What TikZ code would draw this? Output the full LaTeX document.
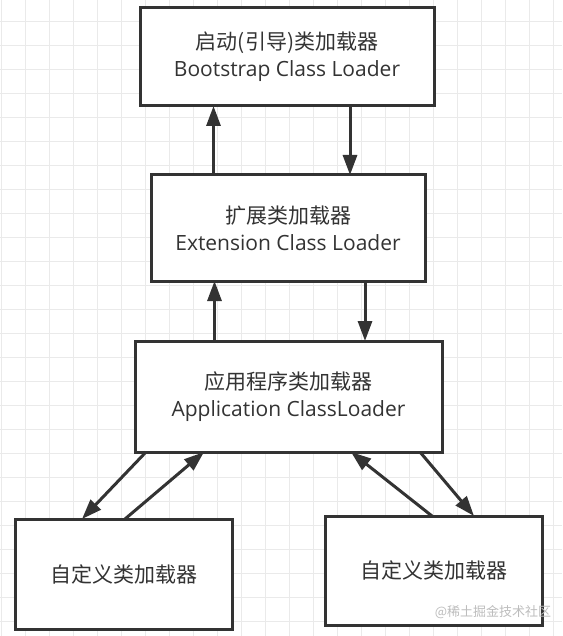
\documentclass[tikz,border=0pt]{standalone}
\usepackage{fontspec}
\setmainfont{Open Sans}
\newfontfamily\cjk{Noto Sans CJK SC}
\usetikzlibrary{arrows.meta}
\definecolor{ink}{HTML}{333333}
\definecolor{gridc}{HTML}{EAEAEA}
\definecolor{wmark}{HTML}{BDBDBD}
\tikzset{
  box/.style={draw=ink, line width=3pt, rectangle, inner sep=0pt, outer sep=0pt, fill=white,
    text=ink, align=center, font=\fontsize{21}{27}\selectfont},
  arr/.style={draw=ink, line width=3pt, -{Triangle[length=20pt,width=14pt]}},
  gridline/.style={draw=gridc, line width=1pt}
}
\newcommand{\zh}[1]{{\cjk\fontsize{21}{27}\selectfont #1}}
\begin{document}
\begin{tikzpicture}[x=1pt,y=-1pt]
\fill[white] (0,0) rectangle (562,636);
\useasboundingbox (0,0) rectangle (562,636);
\foreach \gx in {1,25,...,553} \draw[gridline] (\gx,0) -- (\gx,636);
\foreach \gy in {21.5,45.5,...,621.5} \draw[gridline] (0,\gy) -- (562,\gy);

\node[box, minimum width=294pt, minimum height=98pt] (boot) at (287,57)
  {\zh{启动(引导)类加载器}\\Bootstrap Class Loader};
\node[box, minimum width=274pt, minimum height=106pt] (ext) at (288,228)
  {\zh{扩展类加载器}\\Extension Class Loader};
\node[box, minimum width=307pt, minimum height=111pt] (app) at (288.5,396.5)
  {\zh{应用程序类加载器}\\Application ClassLoader};
\node[box, minimum width=217pt, minimum height=110pt] (c1) at (123.5,574)
  {\zh{自定义类加载器}};
\node[box, minimum width=217pt, minimum height=109pt] (c2) at (433.5,570.5)
  {\zh{自定义类加载器}};

\draw[arr] (ext.north west -| 213.5,0) -- (boot.south west -| 213.5,0);
\draw[arr] (boot.south west -| 350,0) -- (ext.north west -| 350,0);
\draw[arr] (app.north west -| 214.5,0) -- (ext.south west -| 214.5,0);
\draw[arr] (ext.south west -| 365,0) -- (app.north west -| 365,0);

\draw[arr] ([xshift=11pt]app.south west) -- ([xshift=67pt]c1.north west);
\draw[arr] ([xshift=110pt]c1.north west) -- ([xshift=69pt]app.south west);
\draw[arr] ([xshift=107pt]c2.north west) -- ([xshift=216pt]app.south west);
\draw[arr] ([xshift=285pt]app.south west) -- ([xshift=149pt]c2.north west);

\node[text=wmark, font=\cjk\fontsize{13}{15}\selectfont, inner sep=0pt] (wm) at (493,612) {@稀土掘金技术社区};
\end{tikzpicture}
\end{document}
